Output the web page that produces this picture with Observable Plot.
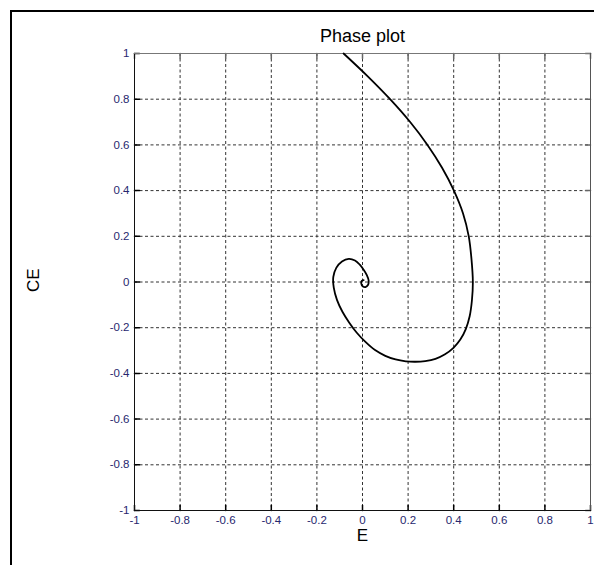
<!DOCTYPE html>
<html>
<head>
<meta charset="utf-8">
<script src="https://cdn.jsdelivr.net/npm/d3@7"></script>
<script src="https://cdn.jsdelivr.net/npm/@observablehq/plot@0.6"></script>
<style>
  html, body { margin: 0; padding: 0; background: #fff; overflow: hidden; }
  #wrap { position: relative; width: 594px; height: 565px; overflow: hidden; }
  #border { position: absolute; left: 10px; top: 10px; width: 700px; height: 700px;
            border-left: 2px solid #000; border-top: 2px solid #000; }
  #chart { position: absolute; left: 0; top: 0; }
</style>
</head>
<body>
<div id="wrap"><div id="border"></div><div id="chart"></div></div>
<script>
// Trajectory in the (E, CE) phase plane, from the upper entry point spiralling into the origin
const E  = [-0.083, 0.023, 0.121, 0.209, 0.285, 0.349, 0.401, 0.441, 0.466, 0.478, 0.484,
             0.480, 0.470, 0.453, 0.429, 0.399, 0.362, 0.320, 0.275, 0.232,
             0.190, 0.145, 0.100, 0.055, 0.013, -0.025, -0.058, -0.088, -0.112, -0.126,
            -0.128, -0.115, -0.090, -0.060, -0.033, -0.012, 0.005, 0.019, 0.027, 0.024,
             0.013, 0.002, -0.005, -0.003, 0.005];
const CE = [ 1.000, 0.900, 0.800, 0.700, 0.600, 0.500, 0.400, 0.300, 0.200, 0.100, 0.000,
            -0.080, -0.150, -0.206, -0.252, -0.288, -0.316, -0.336, -0.346, -0.349,
            -0.347, -0.339, -0.323, -0.298, -0.262, -0.222, -0.178, -0.130, -0.078, -0.025,
             0.022, 0.062, 0.090, 0.101, 0.094, 0.076, 0.054, 0.030, 0.006, -0.013,
            -0.022, -0.020, -0.008, 0.005, 0.008];

const xDomain = [-1, 1];
const yDomain = [-1, 1];
const xTicks = [-1, -0.8, -0.6, -0.4, -0.2, 0, 0.2, 0.4, 0.6, 0.8, 1];
const xTickLabels = ["-1", "-0.8", "-0.6", "-0.4", "-0.2", "0", "0.2", "0.4", "0.6", "0.8", "1"];
const yTicks = [-1, -0.8, -0.6, -0.4, -0.2, 0, 0.2, 0.4, 0.6, 0.8, 1];
const yTickLabels = ["-1", "-0.8", "-0.6", "-0.4", "-0.2", "0", "0.2", "0.4", "0.6", "0.8", "1"];

const titleText = "Phase plot";
const xLabelText = "E";
const yLabelText = "CE";

const points = E.map((e, i) => ({E: e, CE: CE[i]}));
const xInner = xTicks.filter(t => t > xDomain[0] && t < xDomain[1]);
const yInner = yTicks.filter(t => t > yDomain[0] && t < yDomain[1]);

// short inward tick segment drawn by the vector mark
const tickShape = {draw(ctx, l) { ctx.moveTo(0, 0); ctx.lineTo(0, -l); }};
const tickLen = 5;
const gridStyle = {stroke: "#333", strokeWidth: 1, strokeDasharray: "3,2.5"};

const chart = Plot.plot({
  width: 594,
  height: 565,
  marginLeft: 134,
  marginRight: 4,
  marginTop: 53,
  marginBottom: 55,
  style: {fontFamily: "'Liberation Sans', Arial, sans-serif", fontSize: "11.5px", color: "#27276e", background: "transparent"},
  x: {domain: xDomain, ticks: xTicks, tickSize: 0, tickPadding: 5, label: null,
      tickFormat: d => xTickLabels[xTicks.indexOf(d)]},
  y: {domain: yDomain, ticks: yTicks, tickSize: 0, tickPadding: 5, label: null,
      tickFormat: d => yTickLabels[yTicks.indexOf(d)]},
  marks: [
    Plot.ruleX(xInner, {x: d => d, ...gridStyle}),
    Plot.ruleY(yInner, {y: d => d, ...gridStyle}),
    // inward ticks on all four sides
    Plot.vector(xTicks, {x: d => d, frameAnchor: "bottom", length: tickLen, rotate: 0, anchor: "start", shape: tickShape, stroke: "#000"}),
    Plot.vector(xTicks, {x: d => d, frameAnchor: "top", length: tickLen, rotate: 180, anchor: "start", shape: tickShape, stroke: "#666"}),
    Plot.vector(yTicks, {y: d => d, frameAnchor: "left", length: tickLen, rotate: 90, anchor: "start", shape: tickShape, stroke: "#000"}),
    Plot.vector(yTicks, {y: d => d, frameAnchor: "right", length: tickLen, rotate: -90, anchor: "start", shape: tickShape, stroke: "#666"}),
    Plot.frame({stroke: "#111"}),
    Plot.ruleY([yDomain[1]], {stroke: "#777"}),
    Plot.ruleX([xDomain[1]], {stroke: "#555"}),
    Plot.line(points, {x: "E", y: "CE", curve: "catmull-rom", stroke: "#000", strokeWidth: 1.8}),
    Plot.text([titleText], {text: d => d, frameAnchor: "top", dy: -24, fontSize: 18, fill: "#000"}),
    Plot.text([xLabelText], {text: d => d, frameAnchor: "bottom", dy: 30, fontSize: 17, fill: "#000"}),
    Plot.text([yLabelText], {text: d => d, frameAnchor: "left", dx: -101, dy: 10, rotate: -90, fontSize: 17, fill: "#000"})
  ]
});
document.getElementById("chart").appendChild(chart);
</script>
</body>
</html>
